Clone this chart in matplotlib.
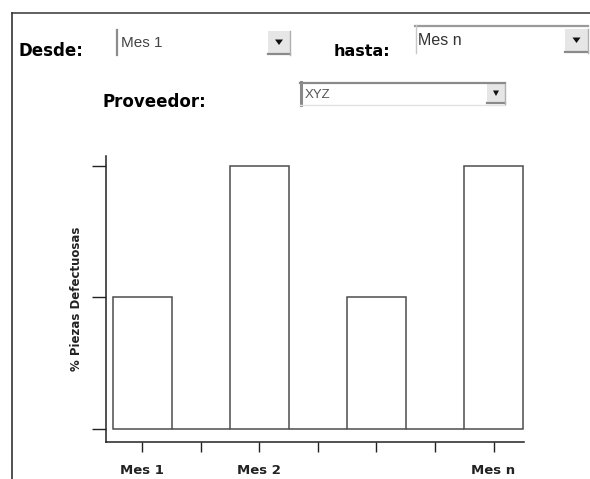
import matplotlib
matplotlib.use("Agg")
import matplotlib.pyplot as plt
from matplotlib.patches import Rectangle, Polygon
from matplotlib.lines import Line2D

# ======================= DATA =======================

slots = [0, 1, 2, 3, 4, 5, 6]
defect_pct = [1, 0, 2, 0, 1, 0, 2]
tick_labels = ["Mes 1", "", "Mes 2", "", "", "", "Mes n"]
y_ticks = [0, 1, 2]

desde_value = "Mes 1"
hasta_value = "Mes n"
proveedor_value = "XYZ"

# ======================= FIGURE =======================

W, H = 590, 479
fig = plt.figure(figsize=(W / 100, H / 100), dpi=100)
fig.patch.set_facecolor("white")


def px(x, y):
    # pixel coords (top-left origin) -> figure fraction
    return (x / W, 1 - y / H)


def rect(x0, y0, x1, y1, **kw):
    fx, fy = px(x0, y1)
    r = Rectangle((fx, fy), (x1 - x0) / W, (y1 - y0) / H,
                  transform=fig.transFigure, **kw)
    fig.patches.append(r)


def line(xs, ys, **kw):
    fig.lines.append(Line2D([x / W for x in xs], [1 - y / H for y in ys],
                            transform=fig.transFigure, **kw))


def arrow_button(x0, y0, x1, y1, tri_w=8):
    rect(x0, y0, x1, y1, facecolor="#e6e6e6", edgecolor="none")
    line([x0, x1], [y1 - 1, y1 - 1], color="#8a8a8a", lw=1.6)
    line([x1 - 0.5, x1 - 0.5], [y0, y1], color="#b0b0b0", lw=1.0)
    cx, cy = (x0 + x1) / 2, (y0 + y1) / 2 - 1
    pts = [px(cx - tri_w / 2, cy - 2.5), px(cx + tri_w / 2, cy - 2.5), px(cx, cy + 3)]
    fig.patches.append(Polygon(pts, closed=True, transform=fig.transFigure,
                               facecolor="#111111", edgecolor="none"))


# outer frame (top and left)
line([11.5, W], [12.5, 12.5], color="#444444", lw=1.2)
line([11.5, 11.5], [12.5, H], color="#333333", lw=1.2)

# labels of the filter form
fig.text(*px(18, 56), "Desde:", fontsize=12, fontweight="bold",
         family="DejaVu Sans", ha="left", va="baseline")
fig.text(*px(334, 56), "hasta:", fontsize=11.5, fontweight="bold",
         family="DejaVu Sans", ha="left", va="baseline")
fig.text(*px(102, 107), "Proveedor:", fontsize=12, fontweight="bold",
         family="DejaVu Sans", ha="left", va="baseline")

# "Desde" dropdown
line([117, 117], [30, 55], color="#8c8c8c", lw=1.6)
fig.text(*px(121, 47), desde_value, fontsize=11, family="Liberation Sans",
         color="#444444", ha="left", va="baseline")
arrow_button(268, 31, 290, 55)

# "hasta" dropdown
rect(415, 25, 588, 53, facecolor="white", edgecolor="none")
line([415, 588], [25.5, 25.5], color="#9a9a9a", lw=1.6)
line([415.5, 415.5], [25, 53], color="#c8c8c8", lw=1.0)
fig.text(*px(418, 45), hasta_value, fontsize=11.5, family="Liberation Sans",
         color="#333333", ha="left", va="baseline")
arrow_button(565, 29, 588, 53)

# "Proveedor" dropdown
line([300, 505], [82.5, 82.5], color="#8a8a8a", lw=1.6)
line([300.5, 300.5], [82, 105], color="#8a8a8a", lw=2.2)
line([300, 505], [105, 105], color="#e2e2e2", lw=1.0)
fig.text(*px(305, 98), proveedor_value, fontsize=9.5, family="Liberation Sans",
         color="#555555", ha="left", va="baseline", stretch="condensed")
arrow_button(487, 84, 505, 104, tri_w=6)

# ======================= CHART =======================

ax_left, ax_right, ax_top, ax_bottom = 106, 524, 156, 442
ax = fig.add_axes([ax_left / W, 1 - ax_bottom / H,
                   (ax_right - ax_left) / W, (ax_bottom - ax_top) / H])

ax.bar(slots, defect_pct, width=1.0, color="white", edgecolor="#4d4d4d",
       linewidth=1.1, zorder=3)

ax.set_xlim(-0.62, 6.52)
ax.set_ylim(-0.1, 2.076)

for s in ["top", "right"]:
    ax.spines[s].set_visible(False)
for s in ["left", "bottom"]:
    ax.spines[s].set_color("#222222")
    ax.spines[s].set_linewidth(1.1)

ax.set_yticks(y_ticks)
ax.set_yticklabels([])
ax.tick_params(axis="y", direction="out", length=10, width=1.0, color="#222222")

ax.set_xticks(slots)
ax.set_xticklabels(tick_labels, fontsize=9.5, fontweight="bold", color="#222222")
ax.tick_params(axis="x", direction="out", length=7, width=1.0, color="#222222", pad=9)

ax.set_ylabel("% Piezas Defectuosas", fontsize=8.5, fontweight="bold", color="#222222")
ax.yaxis.set_label_coords(-0.055, 0.5)

fig.savefig("out.png", dpi=100, facecolor="white")
